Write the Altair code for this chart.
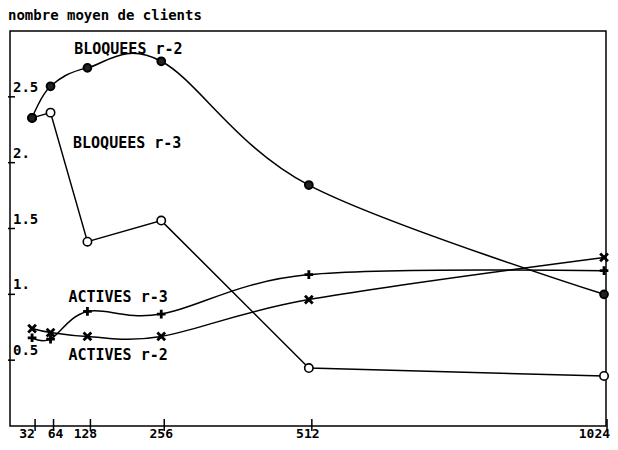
import altair as alt
import pandas as pd

# ---- data ----
x_values = [32, 64, 128, 256, 512, 1024]
bloquees_r2 = [2.34, 2.58, 2.72, 2.77, 1.83, 1.00]
bloquees_r3 = [2.34, 2.38, 1.40, 1.56, 0.44, 0.38]
actives_r3 = [0.67, 0.66, 0.87, 0.85, 1.15, 1.18]
actives_r2 = [0.74, 0.71, 0.68, 0.68, 0.96, 1.28]

series_names = ["BLOQUEES r-2", "BLOQUEES r-3", "ACTIVES r-3", "ACTIVES r-2"]
label_x = [105, 103, 95, 95]
label_y = [2.86, 2.15, 0.98, 0.54]

x_ticks = [32, 64, 128, 256, 512, 1024]
x_tick_labels = ["32", "64", "128", "256", "512", "1024"]
y_ticks = [0.5, 1.0, 1.5, 2.0, 2.5]
y_tick_labels = ["0.5", "1.", "1.5", "2.", "2.5"]
title_text = "nombre moyen de clients"

# ---- tables ----
rows = []
for name, vals in zip(series_names, [bloquees_r2, bloquees_r3, actives_r3, actives_r2]):
    for xv, yv in zip(x_values, vals):
        rows.append({"series": name, "x": xv, "y": yv})
df = pd.DataFrame(rows)
labels_df = pd.DataFrame({"series": series_names, "x": label_x, "y": label_y})
xt_df = pd.DataFrame({"x": x_ticks, "label": x_tick_labels})
yt_df = pd.DataFrame({"y": y_ticks, "label": y_tick_labels})

FONT = "DejaVu Sans Mono"
FS = 15
xs = alt.Scale(domain=[-6.3, 1027.4], nice=False, zero=False)
ys = alt.Scale(domain=[0, 3], nice=False, zero=False)
X = alt.X("x:Q", scale=xs, axis=None)
Y = alt.Y("y:Q", scale=ys, axis=None)

base = alt.Chart(df)

def line(name, interp):
    return base.transform_filter(alt.datum.series == name).mark_line(
        color="black", strokeWidth=1.5, interpolate=interp
    ).encode(x=X, y=Y)

lines = [
    line("BLOQUEES r-2", "cardinal"),
    line("BLOQUEES r-3", "linear"),
    line("ACTIVES r-3", "cardinal"),
    line("ACTIVES r-2", "cardinal"),
]

pts_b3 = base.transform_filter(alt.datum.series == "BLOQUEES r-3").mark_point(
    shape="circle", filled=True, fill="white", stroke="black", strokeWidth=1.6, size=70, opacity=1
).encode(x=X, y=Y)
pts_b2 = base.transform_filter(alt.datum.series == "BLOQUEES r-2").mark_point(
    shape="circle", filled=True, fill="#222222", stroke="black", strokeWidth=2, size=60, opacity=1
).encode(x=X, y=Y)
pts_a3 = base.transform_filter(alt.datum.series == "ACTIVES r-3").mark_point(
    shape="M-1,0L1,0M0,-1L0,1", filled=False, stroke="black", strokeWidth=2.8, size=75, opacity=1
).encode(x=X, y=Y)
pts_a2 = base.transform_filter(alt.datum.series == "ACTIVES r-2").mark_point(
    shape="M-1,-1L1,1M-1,1L1,-1", filled=False, stroke="black", strokeWidth=2.8, size=60, opacity=1
).encode(x=X, y=Y)

x_tick_marks = alt.Chart(xt_df).mark_rule(color="black", strokeWidth=1.5, xOffset=3).encode(
    x=X, y=alt.value(388), y2=alt.value(400)
)
y_tick_marks = alt.Chart(yt_df).mark_rule(color="black", strokeWidth=1.5).encode(
    y=Y, x=alt.value(-8), x2=alt.value(5)
)

# per-label horizontal nudges (styling, as printed in the original)
label_nudge = {32: -5, 64: 5, 128: -2, 256: 0, 512: -1}
x_labs = []
for v, d in label_nudge.items():
    x_labs.append(
        alt.Chart(xt_df).transform_filter(alt.datum.x == v).mark_text(
            font=FONT, fontWeight="bold", fontSize=13, align="center", baseline="middle",
            dx=d, color="black"
        ).encode(x=X, y=alt.value(403), text="label:N")
    )
x_labs.append(
    alt.Chart(xt_df).transform_filter(alt.datum.x == 1024).mark_text(
        font=FONT, fontWeight="bold", fontSize=13, align="right", baseline="middle",
        dx=6, color="black"
    ).encode(x=X, y=alt.value(403), text="label:N")
)

y_lab = alt.Chart(yt_df).mark_text(
    font=FONT, fontWeight="bold", fontSize=14, align="left", baseline="middle", dy=-9, color="black"
).encode(x=alt.value(3), y=Y, text="label:N")

series_lab = alt.Chart(labels_df).mark_text(
    font=FONT, fontWeight="bold", fontSize=FS, align="left", baseline="middle", color="black"
).encode(x=X, y=Y, text="series:N")

title = alt.Chart(pd.DataFrame({"t": [title_text]})).mark_text(
    font=FONT, fontWeight="bold", fontSize=14, align="left", baseline="top", color="black"
).encode(x=alt.value(-2), y=alt.value(-22), text="t:N")

chart = alt.layer(
    *lines, pts_b3, pts_b2, pts_a3, pts_a2,
    x_tick_marks, y_tick_marks, *x_labs, y_lab, series_lab, title
).properties(
    width=596,
    height=395,
    padding={"left": 2, "top": 23, "right": 4, "bottom": 16},
    autosize=alt.AutoSizeParams(type="none"),
    background="white",
).configure_view(stroke="black", strokeWidth=1.5)

chart.save("out.html", embed_options={"renderer": "svg", "actions": False})
